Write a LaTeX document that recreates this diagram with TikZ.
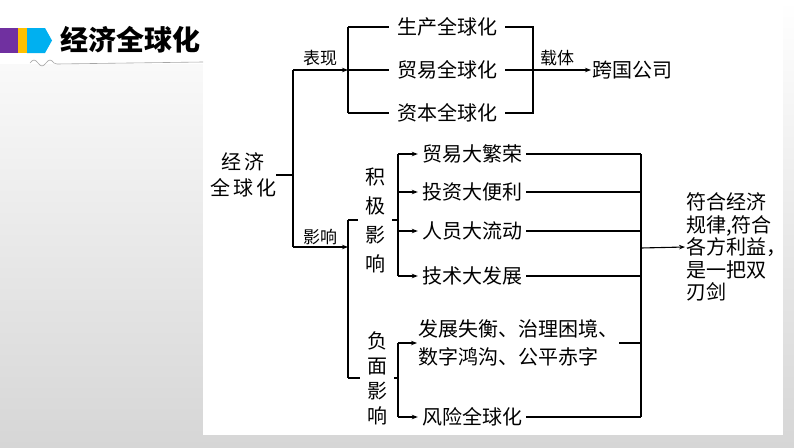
\documentclass[tikz,border=0pt]{standalone}
\usepackage{fontspec}
\newfontfamily\cjk{Noto Sans CJK SC}
\usetikzlibrary{arrows.meta}
\definecolor{hpurple}{HTML}{7030A0}
\definecolor{horange}{HTML}{FFC000}
\definecolor{hblue}{HTML}{00B0F0}
\definecolor{bggray}{HTML}{D6D6D6}
\begin{document}
\begin{tikzpicture}[x=1pt,y=-1pt,
  ln/.style={line width=1.1pt},
  arr/.style={line width=1.1pt,-{Stealth[length=6pt,width=4.5pt]}},
  txt/.style={font=\cjk\fontsize{20}{24}\selectfont, inner sep=0pt},
  lab/.style={font=\cjk\fontsize{17}{20}\selectfont, inner sep=0pt}]
% background
\useasboundingbox (0,0) rectangle (794,447);
\shade[top color=white, bottom color=bggray] (0,0) rectangle (794,447);
\fill[white] (0,0) rectangle (203,64);
\fill[white] (203,0) rectangle (783,435);
% header
\fill[hpurple] (0,28) rectangle (18,53);
\fill[horange] (18,28) rectangle (27,53);
\fill[hblue] (27,28) -- (45,28) -- (52,40.5) -- (45,53) -- (27,53) -- cycle;
\node[font=\cjk\bfseries\fontsize{28}{30}\selectfont, inner sep=0pt] (title) at (130,40) {经济全球化};
\draw[gray!70, line width=0.6pt] (30,63) sin (34,60) cos (38,63) sin (42,66) cos (46,63) sin (50,60) cos (54,63) sin (57,64) -- (203,62);
% top branch
\node[txt, align=center, font=\cjk\fontsize{20}{26}\selectfont] (root) at (243,175) {经\hspace{3pt}济\\全\hspace{3pt}球\hspace{3pt}化};
\node[txt, inner xsep=8pt] (p1) at (447,27) {生产全球化};
\node[txt, inner xsep=8pt] (p2) at (447,70) {贸易全球化};
\node[txt, inner xsep=8pt] (p3) at (447,113) {资本全球化};
\node[txt, anchor=west, inner xsep=1pt] (tnc) at (591,70) {跨国公司};
\node[lab] (l1) at (320,58) {表现};
\node[lab] (l2) at (557,58) {载体};
\node[lab] (l3) at (320,237) {影响};
\coordinate (tT) at (293,70);
\coordinate (tB) at (293,247);
\coordinate (b1) at (348,70);
\coordinate (b1t) at (348,27);
\coordinate (b1b) at (348,113);
\coordinate (r1) at (533,70);
\coordinate (r1t) at (533,27);
\coordinate (r1b) at (533,113);
\draw[ln] (root.east) -- (root.east -| tT);
\draw[ln] (tT) -- (tB);
\draw[arr] (tT) -- (b1);
\draw[ln] (b1t) -- (b1b);
\draw[ln] (b1t) -- (p1.west);
\draw[ln] (b1) -- (p2.west);
\draw[ln] (b1b) -- (p3.west);
\draw[ln] (p1.east) -- (r1t) -- (r1b) -- (p3.east);
\draw[ln] (p2.east) -- (r1);
\draw[arr] (r1) -- (tnc.west);
% bottom branch
\node[txt, align=center, font=\cjk\fontsize{20}{29}\selectfont, inner xsep=7pt] (pos) at (375,220) {积\\极\\影\\响};
\node[txt, align=center, font=\cjk\fontsize{20}{25}\selectfont, inner xsep=7pt] (neg) at (377,378) {负\\面\\影\\响};
\coordinate (b2) at (348,247);
\coordinate (b2t) at (348,220);
\coordinate (b2b) at (348,378);
\draw[arr] (tB) -- (b2);
\draw[ln] (b2t) -- (b2b);
\draw[ln] (b2t) -- (pos.west);
\draw[ln] (b2b) -- (neg.west);
% positive items
\node[txt, inner xsep=4pt] (q1) at (472,154) {贸易大繁荣};
\node[txt, inner xsep=4pt] (q2) at (472,192) {投资大便利};
\node[txt, inner xsep=4pt] (q3) at (472,231) {人员大流动};
\node[txt, inner xsep=4pt] (q4) at (472,276) {技术大发展};
\coordinate (c1t) at (398,154);
\coordinate (c1b) at (398,276);
\coordinate (c1m) at (398,220);
\draw[ln] (pos.east) -- (c1m);
\draw[ln] (c1t) -- (c1b);
\draw[arr] (c1t) -- (q1.west);
\draw[arr] (q2.west -| c1t) -- (q2.west);
\draw[arr] (q3.west -| c1t) -- (q3.west);
\draw[arr] (c1b) -- (q4.west);
% negative items
\node[txt, anchor=west, align=left, font=\cjk\fontsize{20}{28}\selectfont, inner xsep=1pt] (n1) at (417,343) {发展失衡、治理困境、\\数字鸿沟、公平赤字};
\node[txt, inner xsep=4pt] (n2) at (472,417) {风险全球化};
\coordinate (c2t) at (398,343);
\coordinate (c2b) at (398,417);
\coordinate (c2m) at (398,378);
\draw[ln] (neg.east) -- (c2m);
\draw[ln] (c2t) -- (c2b);
\draw[arr] (c2t) -- (n1.west);
\draw[arr] (c2b) -- (n2.west);
% right collector
\coordinate (rt) at (641,154);
\coordinate (rb) at (641,417);
\coordinate (rm) at (641,248);
\draw[ln] (q1.east) -- (rt);
\draw[ln] (q2.east) -- (q2.east -| rt);
\draw[ln] (q3.east) -- (q3.east -| rt);
\draw[ln] (q4.east) -- (q4.east -| rt);
\draw[ln] (n1.east) -- (n1.east -| rt);
\draw[ln] (n2.east) -- (rb);
\draw[ln] (rt) -- (rb);
\node[txt, anchor=west, align=left, font=\cjk\fontsize{20}{22.5}\selectfont, inner xsep=1pt] (concl) at (685,247) {符合经济\\规律,符合\\各方利益，\\是一把双\\刃剑};
\draw[arr] (rm) -- (concl.west);
\end{tikzpicture}
\end{document}
